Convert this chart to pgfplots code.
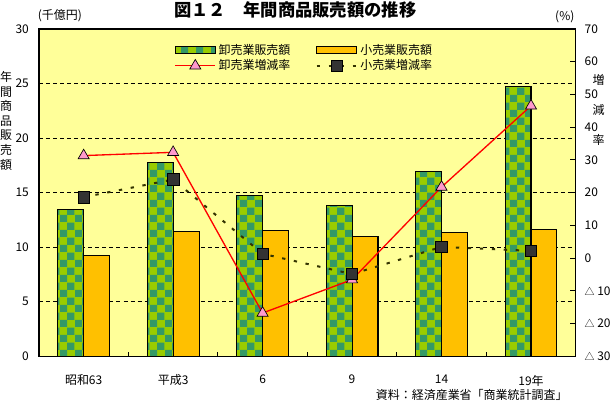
\documentclass[border=0pt]{standalone}
\usepackage{fontspec}
\setmainfont{Noto Sans CJK JP}
\usepackage{pgfplots}
\pgfplotsset{compat=1.18}
\usetikzlibrary{patterns}

\definecolor{bgY}{HTML}{FFFF99}
\definecolor{chkG}{HTML}{339966}
\definecolor{chkY}{HTML}{99CC00}
\definecolor{retail}{HTML}{FFC000}
\definecolor{triP}{HTML}{FF99CC}
\definecolor{sqD}{HTML}{333333}
\definecolor{dashD}{HTML}{333300}

\tikzset{
  wsbar/.style={fill=chkY, postaction={pattern=checkerboard, pattern color=chkG}, draw=black, line width=0.8pt},
  rtbar/.style={fill=retail, draw=black, line width=0.8pt},
  wsline/.style={red, line width=1pt, mark=triangle*, mark size=4.8pt,
    mark options={solid, fill=triP, draw=black, line width=0.5pt}},
  rtline/.style={dashD, line width=1.5pt, dash pattern=on 2.5pt off 6.5pt, mark=square*, mark size=4.3pt,
    mark options={solid, fill=sqD, draw=black, line width=0.5pt}},
}
\pgfplotsset{
  barlegend/.style={legend image code/.code={\draw[##1] (0pt,-2.6pt) rectangle (30pt,2.6pt);}},
  linelegend/.style={legend image code/.code={\draw[##1, mark repeat=2, mark phase=2] plot coordinates {(0pt,0pt) (15pt,0pt) (30pt,0pt)};}},
}
\newcommand{\minus}{{\fontsize{7.5}{8}\selectfont△}\kern2pt}

\begin{document}
\begin{tikzpicture}
% left axis: sales (1000 billion yen)
\begin{axis}[
    name=ax,
    scale only axis,
    width=403.5pt, height=246pt,
    xmin=-0.5, xmax=5.5,
    ymin=0, ymax=30,
    axis background/.style={fill=bgY},
    axis line style={line width=1pt},
    ytick={0,5,...,30},
    ytick style={draw=none},
    ytick pos=left,
    ymajorgrids,
    grid style={black, line width=0.6pt, dash pattern=on 3pt off 2.3pt},
    xtick={0,...,5},
    xticklabels={昭和63,平成3,6,9,14,19年},
    major x tick style={draw=none},
    minor xtick={0.5,1.5,2.5,3.5,4.5},
    minor tick length=3pt,
    minor x tick style={black, line width=0.6pt},
    xtick pos=bottom,
    tick align=inside,
    tick label style={font=\fontsize{9}{10}\selectfont},
    /pgf/number format/assume math mode=true,
    yticklabel style={xshift=-4pt},
    xticklabel style={yshift=-10.5pt},
]
\addplot[wsbar, ybar, bar width=0.29, bar shift=-0.145] coordinates {
    (0,13.42) (1,17.72) (2,14.70) (3,13.80) (4,16.93) (5,24.73)
};
\addplot[rtbar, ybar, bar width=0.29, bar shift=0.145] coordinates {
    (0,9.21) (1,11.44) (2,11.50) (3,10.98) (4,11.35) (5,11.62)
};
\end{axis}

% right axis: growth rate (%)
\begin{axis}[
    scale only axis,
    width=403.5pt, height=246pt,
    xmin=-0.5, xmax=5.5,
    ymin=-30, ymax=70,
    axis x line=none,
    axis y line*=right,
    axis line style={line width=1pt},
    ytick={-30,-20,...,70},
    yticklabels={\minus 30,\minus 20,\minus 10,0,10,20,30,40,50,60,70},
    tick align=inside,
    major tick length=4pt,
    ytick style={black, line width=0.6pt},
    tick label style={font=\fontsize{9}{10}\selectfont},
    yticklabel style={xshift=5.5pt, inner sep=1pt},
    clip=false,
    legend columns=2,
    legend cell align=left,
    legend style={at={(rel axis cs:0.245,0.97)}, anchor=north west,
      draw=none, fill=none, font=\fontsize{9}{10}\selectfont,
      row sep=-1.5pt,
      /tikz/every even column/.append style={column sep=17pt}},
]
\addlegendimage{wsbar, barlegend}
\addlegendentry{卸売業販売額}
\addlegendimage{rtbar, barlegend}
\addlegendentry{小売業販売額}
\addplot[wsline, linelegend] coordinates {
    (0,31.3) (1,32.3) (2,-16.8) (3,-6.6) (4,21.7) (5,46.5)
};
\addlegendentry{卸売業増減率}
\addplot[rtline, linelegend] coordinates {
    (0,18.6) (1,24.0) (2,1.3) (3,-4.9) (4,3.4) (5,2.2)
};
\addlegendentry{小売業増減率}
\end{axis}

% titles and labels
\node[font=\fontsize{13}{15}\selectfont\bfseries, inner sep=0pt] at ([shift={(192.75pt,260.25pt)}]ax.south west) {図１２　年間商品販売額の推移};
\node[font=\fontsize{9}{10}\selectfont, inner sep=0pt] at ([shift={(15.75pt,255.75pt)}]ax.south west) {(千億円)};
\node[font=\fontsize{9}{10}\selectfont, inner sep=0pt] at ([shift={(395.25pt,255pt)}]ax.south west) {(\%)};
\node[font=\fontsize{9}{11}\selectfont, align=center, inner sep=0pt] at ([shift={(-24.75pt,177pt)}]ax.south west) {年\\間\\商\\品\\販\\売\\額};
\node[font=\fontsize{9}{10}\selectfont, inner sep=0pt] at ([shift={(420.75pt,207.75pt)}]ax.south west) {増};
\node[font=\fontsize{9}{10}\selectfont, inner sep=0pt] at ([shift={(420.75pt,185.25pt)}]ax.south west) {減};
\node[font=\fontsize{9}{10}\selectfont, inner sep=0pt] at ([shift={(420.75pt,162.75pt)}]ax.south west) {率};
\node[font=\fontsize{9}{10}\selectfont, anchor=east, inner sep=0pt] at ([shift={(397.5pt,-29pt)}]ax.south west) {資料：経済産業省「商業統計調査」};
\path ([shift={(-29.25pt,-34.5pt)}]ax.south west) rectangle ([shift={(433pt,267.75pt)}]ax.south west);
\end{tikzpicture}
\end{document}
